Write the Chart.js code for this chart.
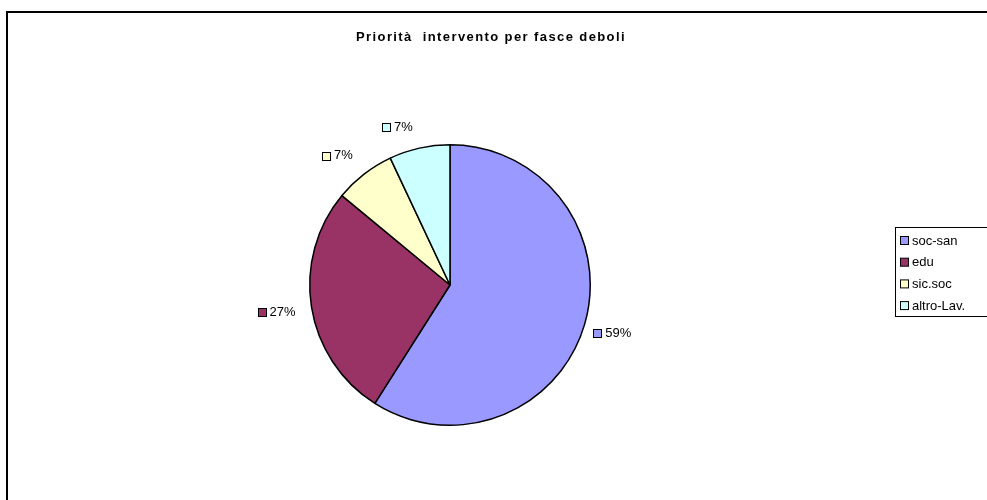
<!DOCTYPE html>
<html>
<head>
<meta charset="utf-8">
<script src="https://cdn.jsdelivr.net/npm/chart.js@4"></script>
<style>
  html, body { margin: 0; padding: 0; background: #fff; }
  #wrap { width: 987px; height: 500px; position: relative; }
</style>
</head>
<body>
<div id="wrap"><canvas id="pieChart"></canvas></div>
<script>
// --- DATA ---
const categories = ['soc-san', 'edu', 'sic.soc', 'altro-Lav.'];
const percentages = [59, 27, 7, 7];
const sliceColors = ['#9999FF', '#993366', '#FFFFCC', '#CCFFFF'];
const chartTitle = 'Priorità  intervento per fasce deboli';

const FONT = '"Liberation Sans", Arial, sans-serif';

// frame + title + legend drawn by hand, excel style
const decorPlugin = {
    id: 'decor',
    beforeDraw(chart) {
        const ctx = chart.ctx;
        ctx.save();
        ctx.strokeStyle = '#000';
        ctx.lineWidth = 2;
        ctx.strokeRect(7, 12, 1000, 500);

        ctx.font = 'bold 13px ' + FONT;
        ctx.letterSpacing = '1.4px';
        ctx.fillStyle = '#000';
        ctx.textAlign = 'center';
        ctx.textBaseline = 'middle';
        ctx.fillText(chartTitle, 491, 37);
        ctx.letterSpacing = '0px';

        // legend
        ctx.lineWidth = 1;
        ctx.strokeRect(895.5, 227.5, 120, 89);
        ctx.font = '13px ' + FONT;
        ctx.textAlign = 'left';
        categories.forEach((name, i) => {
            const y = 241 + i * 21.7;
            ctx.fillStyle = sliceColors[i];
            ctx.fillRect(900.5, y - 4.5, 8, 8);
            ctx.strokeStyle = '#000';
            ctx.strokeRect(900.5, y - 4.5, 8, 8);
            ctx.fillStyle = '#000';
            ctx.fillText(name, 912, y);
        });
        ctx.restore();
    },
    afterDatasetsDraw(chart) {
        const ctx = chart.ctx;
        const meta = chart.getDatasetMeta(0);
        const total = percentages.reduce((a, b) => a + b, 0);
        ctx.save();
        ctx.font = '13px ' + FONT;
        ctx.textBaseline = 'middle';
        meta.data.forEach((arc, i) => {
            const p = arc.getProps(['x', 'y', 'startAngle', 'endAngle', 'outerRadius']);
            const mid = (p.startAngle + p.endAngle) / 2;
            const dx = Math.cos(mid), dy = Math.sin(mid);
            const d = p.outerRadius + 12;
            const px = p.x + dx * d, py = p.y + dy * d;
            const text = Math.round(percentages[i] / total * 100) + '%';
            const w = 12 + ctx.measureText(text).width, h = 14;
            let left, top;
            if (Math.abs(dy) < 0.35) {
                left = dx > 0 ? px - 3 : px - w - 4;
                top = py - h / 2 + dy * h * 1.5;
            } else {
                left = dx > 0 ? px : px - w - 4;
                top = dy > 0 ? py : py - h - 2;
            }
            const cy = top + h / 2;
            ctx.fillStyle = sliceColors[i];
            ctx.fillRect(Math.round(left) + 0.5, Math.round(cy - 4) + 0.5, 8, 8);
            ctx.strokeStyle = '#000';
            ctx.lineWidth = 1;
            ctx.strokeRect(Math.round(left) + 0.5, Math.round(cy - 4) + 0.5, 8, 8);
            ctx.fillStyle = '#000';
            ctx.textAlign = 'left';
            ctx.fillText(text, left + 12, cy);
        });
        ctx.restore();
    }
};

new Chart(document.getElementById('pieChart'), {
    type: 'pie',
    data: {
        labels: categories,
        datasets: [{
            data: percentages,
            backgroundColor: sliceColors,
            borderColor: '#000',
            borderWidth: 1.5
        }]
    },
    options: {
        responsive: true,
        maintainAspectRatio: false,
        animation: false,
        layout: { padding: { top: 144, bottom: 74, left: 150, right: 237 } },
        plugins: {
            legend: { display: false },
            title: { display: false },
            tooltip: { enabled: false }
        }
    },
    plugins: [decorPlugin]
});
</script>
</body>
</html>
